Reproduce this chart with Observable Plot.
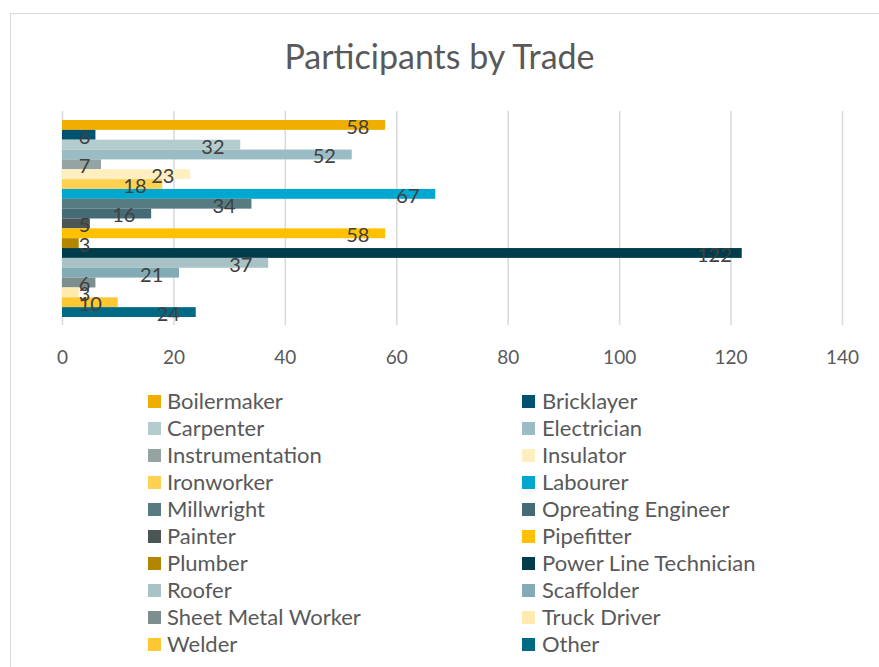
<!DOCTYPE html>
<html>
<head>
<meta charset="utf-8">
<script src="https://cdn.jsdelivr.net/npm/d3@7"></script>
<script src="https://cdn.jsdelivr.net/npm/@observablehq/plot@0.6"></script>
<style>
  html, body { margin: 0; padding: 0; background: #fff; }
  #wrap { position: relative; width: 879px; height: 667px; overflow: hidden; font-family: Lato, "Open Sans", sans-serif; }
  #frame { position: absolute; left: 10px; top: 13px; width: 900px; height: 700px; border: 1.5px solid #d9d9d9; box-sizing: border-box; }
  #title { position: absolute; left: 0; width: 879px; top: 36px; text-align: center; font-size: 34px; color: #595959; line-height: 40px; }
  #chart { position: absolute; left: 0; top: 100px; }
  .lg { position: absolute; font-size: 22px; color: #595959; line-height: 26px; white-space: nowrap; }
  .sw { position: absolute; width: 13px; height: 13px; }
</style>
</head>
<body>
<div id="wrap">
  <div id="frame"></div>
  <div id="title">Participants by Trade</div>
  <div id="chart"></div>
  <div id="legend"></div>
</div>
<script>
const trades = ["Boilermaker","Bricklayer","Carpenter","Electrician","Instrumentation","Insulator","Ironworker","Labourer","Millwright","Opreating Engineer","Painter","Pipefitter","Plumber","Power Line Technician","Roofer","Scaffolder","Sheet Metal Worker","Truck Driver","Welder","Other"];
const participants = [58,6,32,52,7,23,18,67,34,16,5,58,3,122,37,21,6,3,10,24];
const colors = ["#F0AF00","#005270","#B4CCCE","#9BBCC4","#95A3A3","#FFEFC0","#FFD153","#00A7CE","#567B80","#456B76","#4B5555","#FFC000","#B38600","#003C4A","#A8C2C6","#82ABB5","#7D8E8F","#FFEBB0","#FFC832","#006983"];
const xTicks = [0,20,40,60,80,100,120,140];

const data = trades.map((t, i) => ({trade: t, value: participants[i]}));
const labelOffset = 5;     // data-unit offset of label from bar end
const labelMin = 3.95;     // minimum label position

const chart = Plot.plot({
  width: 879,
  height: 280,
  marginLeft: 62,
  marginRight: 37,
  marginTop: 11,
  marginBottom: 55,
  style: {fontFamily: "Lato, 'Open Sans', sans-serif", background: "transparent"},
  x: {domain: [0, 140], range: [62, 842]},
  y: {type: "band", domain: trades, range: [20, 217], padding: 0, round: false, axis: null},
  color: {domain: trades, range: colors},
  marks: [
    Plot.ruleX(xTicks, {stroke: "#d9d9d9", strokeWidth: 1.5}),
    Plot.barX(data, {x: "value", y: "trade", fill: "trade", insetTop: 0, insetBottom: 0}),
    Plot.text(data, {x: d => Math.max(d.value - labelOffset, labelMin), y: "trade", text: d => String(d.value), fill: "#404040", fontSize: 20, dy: 2, textAnchor: "middle"}),
    Plot.axisX(xTicks, {tickSize: 0, tickPadding: 25, fontSize: 19, fill: "#595959", label: null})
  ]
});
document.getElementById("chart").appendChild(chart);

const legend = document.getElementById("legend");
trades.forEach((t, i) => {
  const col = i % 2, row = Math.floor(i / 2);
  const cy = 401 + 27 * row;
  const sw = document.createElement("div");
  sw.className = "sw";
  sw.style.left = (col ? 522 : 148) + "px";
  sw.style.top = (cy - 6) + "px";
  sw.style.background = colors[i];
  legend.appendChild(sw);
  const tx = document.createElement("div");
  tx.className = "lg";
  tx.style.left = (col ? 542 : 167) + "px";
  tx.style.top = (cy - 13) + "px";
  tx.textContent = t;
  legend.appendChild(tx);
});
</script>
</body>
</html>
